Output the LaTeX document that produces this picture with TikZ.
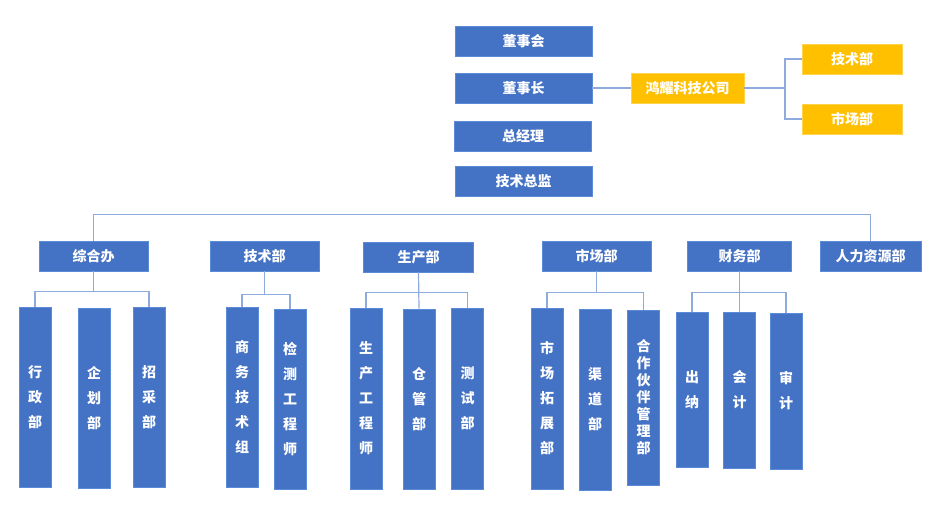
\documentclass[tikz,border=0pt]{standalone}
\usepackage{fontspec}
\newfontfamily\cjk{Noto Sans CJK SC}
\usepackage{xcolor}
\usepackage{tikz}

\definecolor{boxblue}{HTML}{4472C4}
\definecolor{boxedge}{HTML}{5B8BD6}
\definecolor{boxgold}{HTML}{FFC000}
\definecolor{linkblue}{HTML}{8FAADC}

\begin{document}
\begin{tikzpicture}[x=0.75pt,y=0.75pt,
  box/.style={fill=boxblue,draw=boxedge,line width=0.6pt,text=white,inner sep=0pt,
    font=\cjk\bfseries\fontsize{10.5}{12}\selectfont},
  wbox/.style={box,minimum width=#1*0.75pt,minimum height=22.5pt},
  gold/.style={fill=boxgold,draw=boxgold!70!white},
  tall/.style={box,minimum width=24pt,minimum height=#1*0.75pt,align=center,
    font=\cjk\bfseries\fontsize{10.5}{18.75}\selectfont},
  link/.style={draw=linkblue,line width=0.9pt}]
\useasboundingbox (0,0) rectangle (930,-523);

% top of the chart
\node[wbox=137] (dsh) at (523.5,-41.5) {董事会};
\node[wbox=137] (dsz) at (523.5,-88) {董事长};
\node[wbox=137] (zjl) at (523,-136) {总经理};
\node[wbox=137] (jszj) at (523.5,-181) {技术总监};

\node[wbox=113,gold] (hyjt) at (687.5,-88) {鸿耀科技公司};
\node[wbox=100,gold] (hyjs) at (852,-59) {技术部};
\node[wbox=100,gold] (hysc) at (852,-119) {市场部};
\coordinate (fork) at (785,-88);

\draw[link] (dsz) -- (hyjt);
\draw[link] (hyjt.east) -- (fork);
\draw[link] (hyjs.west) -| (fork) |- (hysc.west);

% departments
\node[wbox=109] (zhb) at (93.5,-256) {综合办};
\node[wbox=109] (jsb) at (264.5,-256) {技术部};
\node[wbox=110] (scb) at (418.5,-257) {生产部};
\node[wbox=109] (shcb) at (596.5,-256) {市场部};
\node[wbox=104] (cwb) at (739.5,-256) {财务部};
\node[wbox=101] (rlzy) at (870.5,-256) {人力资源部};

\draw[link] (zhb.north) -- ++(0,26) -| (rlzy.north);

% sections
\foreach \n/\x/\y/\h/\t in {
    xzb/35/397/180/{行\\政\\部},
    qhb/94/398/180/{企\\划\\部},
    zcb/149/397/180/{招\\采\\部},
    swjs/242/397/180/{商\\务\\技\\术\\组},
    jcgc/290/399/180/{检\\测\\工\\程\\师},
    scgc/366/398.5/181/{生\\产\\工\\程\\师},
    cgb/419/399/180/{仓\\管\\部},
    csb/467.5/398.5/181/{测\\试\\部},
    sctz/547/398.5/181/{市\\场\\拓\\展\\部},
    qdb/595/399.5/181/{渠\\道\\部},
    cn/692/389.5/155/{出\\纳},
    kj/739.5/390/156/{会\\计},
    sj/786/391/156/{审\\计}} {
  \node[tall=\h] (\n) at (\x,-\y) {\t};
}
\node[tall=175,font=\cjk\bfseries\fontsize{10.5}{12.75}\selectfont] (hzhb) at (643.5,-397.5)
  {合\\作\\伙\\伴\\管\\理\\部};

\draw[link] (zhb.south) -- ++(0,-21);
\draw[link] (xzb.north) -- ++(0,15) -| (zcb.north);

\draw[link] (jsb.south) -- ++(0,-24);
\draw[link] (swjs.north) -- ++(0,12) -| (jcgc.north);

\draw[link] (scb.south) -- (cgb.north);
\draw[link] (scgc.north) -- ++(0,15) -| (csb.north);

\draw[link] (shcb.south) -- ++(0,-22);
\draw[link] (sctz.north) -- ++(0,15) -| (hzhb.north);

\draw[link] (cwb.south) -- (kj.north);
\draw[link] (cn.north) -- ++(0,19) -| (sj.north);
\end{tikzpicture}
\end{document}
